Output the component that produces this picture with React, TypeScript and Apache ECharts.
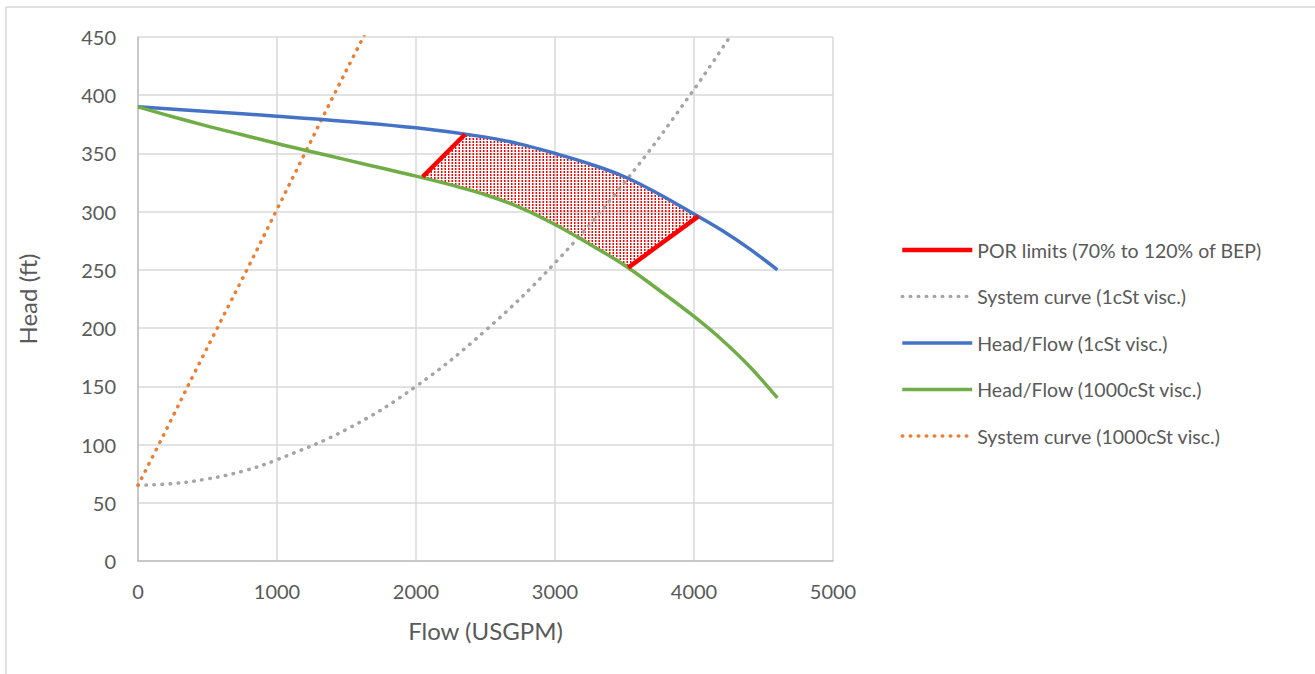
import React, { useEffect, useRef } from "react";
import * as echarts from "echarts";

// Head/Flow curve, 1 cSt
const flowBlue = [0, 500, 1000, 1500, 2000, 2500, 2750, 3000, 3250, 3500, 3750, 4000, 4200, 4400, 4600];
const headBlue = [390, 386, 382, 377.5, 372, 364, 358, 350, 341, 330, 315, 298, 284, 268, 250];

// Head/Flow curve, 1000 cSt
const flowGreen = [0, 250, 500, 750, 1000, 1250, 1500, 1750, 2000, 2250, 2500, 2750, 3000, 3250, 3500, 3750, 4000, 4200, 4400, 4600];
const headGreen = [390, 381.5, 373.5, 366, 358.5, 351.5, 344.5, 337.5, 330.5, 323, 314.5, 303.5, 289, 272, 254, 232.5, 210, 190, 167, 140];

// System curve, 1 cSt
const flowSys1 = [0, 250, 500, 750, 1000, 1500, 2000, 2500, 3000, 3500, 4000, 4400];
const headSys1 = [65, 66.5, 70.5, 77, 87, 113, 150, 198, 256, 325, 405, 476];

// System curve, 1000 cSt
const flowSys1000 = [0, 200, 400, 600, 800, 1000, 1200, 1400, 1600, 1700];
const headSys1000 = [65, 112, 160, 207, 254, 302, 350, 398, 445, 468];

// POR limits (70% and 120% of BEP)
const porLowFlow = [2048, 2353];
const porLowHead = [330, 366.5];
const porHighFlow = [3527, 4031];
const porHighHead = [252, 296];

const xTicks = { min: 0, max: 5000, interval: 1000 };
const yTicks = { min: 0, max: 450, interval: 50 };

const legendNames = [
  "POR limits (70% to 120% of BEP)",
  "System curve (1cSt visc.)",
  "Head/Flow (1cSt visc.)",
  "Head/Flow (1000cSt visc.)",
  "System curve (1000cSt visc.)",
];

const zip = (xs: number[], ys: number[]) => xs.map((x, i) => [x, ys[i]]);

export default function App() {
  const ref = useRef<HTMLDivElement>(null);

  useEffect(() => {
    document.body.style.margin = "0";
    if (!ref.current) return;
    const chart = echarts.init(ref.current, null, { renderer: "svg" });

    // hatch pattern
    const cv = document.createElement("canvas");
    cv.width = 7;
    cv.height = 3;
    const ctx = cv.getContext("2d")!;
    ctx.fillStyle = "#ff0000";
    ctx.fillRect(0, 0, 1.5, 2);
    ctx.fillRect(3.5, 0, 1.5, 2);
    const patternUrl = cv.toDataURL();

    // POR region polygon in data space
    const poly: number[][] = [];
    poly.push([porLowFlow[0], porLowHead[0]]);
    flowGreen.forEach((f, i) => {
      if (f > porLowFlow[0] && f < porHighFlow[0]) poly.push([f, headGreen[i]]);
    });
    poly.push([porHighFlow[0], porHighHead[0]]);
    poly.push([porHighFlow[1], porHighHead[1]]);
    for (let i = flowBlue.length - 1; i >= 0; i--) {
      const f = flowBlue[i];
      if (f < porHighFlow[1] && f > porLowFlow[1]) poly.push([f, headBlue[i]]);
    }
    poly.push([porLowFlow[1], porLowHead[1]]);

    const font = "Lato";
    const textColor = "#595959";
    const fontSize = 20;
    const titleSize = 24;

    const lineSeries = (name: string, xs: number[], ys: number[], color: string, width: number, dotted: boolean, z: number, smooth: number) => ({
      type: "line",
      name,
      data: zip(xs, ys),
      symbol: "none",
      smooth,
      z,
      lineStyle: dotted
        ? { color, width, type: [0.5, 7.5], cap: "round" }
        : { color, width },
      itemStyle: { color },
    });

    chart.setOption({
      animation: false,
      backgroundColor: "#ffffff",
      grid: { left: 138, right: 482, top: 37, bottom: 113, containLabel: false },
      xAxis: {
        type: "value",
        ...xTicks,
        name: "Flow (USGPM)",
        nameLocation: "middle",
        nameGap: 57,
        nameTextStyle: { fontFamily: font, fontSize: titleSize, color: textColor },
        axisLine: { show: true, lineStyle: { color: "#bfbfbf", width: 1.5 } },
        axisTick: { show: false },
        axisLabel: { fontFamily: font, fontSize, color: textColor, margin: 20, formatter: (v: number) => String(v) },
        splitLine: { show: true, lineStyle: { color: "#d9d9d9", width: 1.5 } },
      },
      yAxis: {
        type: "value",
        ...yTicks,
        name: "Head (ft)",
        nameLocation: "middle",
        nameGap: 99,
        nameRotate: 90,
        nameTextStyle: { fontFamily: font, fontSize: titleSize, color: textColor },
        axisLine: { show: true, lineStyle: { color: "#bfbfbf", width: 1.5 } },
        axisTick: { show: false },
        axisLabel: { fontFamily: font, fontSize, color: textColor, margin: 22 },
        splitLine: { show: true, lineStyle: { color: "#d9d9d9", width: 1.5 } },
      },
      legend: {
        orient: "vertical",
        left: 900,
        top: 240,
        padding: 0,
        data: legendNames,
        itemWidth: 70,
        itemHeight: 14,
        itemGap: 26.5,
        itemStyle: { opacity: 0 },
        lineStyle: { width: "inherit" },
        textStyle: { fontFamily: font, fontSize: 19.5, color: textColor, lineHeight: 20 },
      },
      graphic: [
        { type: "line", shape: { x1: 6, y1: 7, x2: 1315, y2: 7 }, style: { stroke: "#d9d9d9", lineWidth: 1.5 } },
        { type: "line", shape: { x1: 6, y1: 7, x2: 6, y2: 674 }, style: { stroke: "#d9d9d9", lineWidth: 1.5 } },
      ],
      series: [
        {
          type: "custom",
          name: "POR region",
          z: 1,
          data: [[0, 0]],
          renderItem: (_params: any, api: any) => {
            const pts = poly.map((p) => api.coord(p));
            return {
              type: "polygon",
              shape: { points: pts },
              style: {
                fill: { image: patternUrl, repeat: "repeat", imageWidth: 7, imageHeight: 3 },
                stroke: "none",
              },
            };
          },
        },
        lineSeries(legendNames[0], porLowFlow, porLowHead, "#ff0000", 4.5, false, 5, 0),
        lineSeries(legendNames[0], porHighFlow, porHighHead, "#ff0000", 4.5, false, 5, 0),
        lineSeries(legendNames[1], flowSys1, headSys1, "#a5a5a5", 3.5, true, 3, 0.4),
        lineSeries(legendNames[2], flowBlue, headBlue, "#4472c4", 3.5, false, 4, 0.4),
        lineSeries(legendNames[3], flowGreen, headGreen, "#70ad47", 3.5, false, 4, 0.4),
        lineSeries(legendNames[4], flowSys1000, headSys1000, "#ed7d31", 3.5, true, 3, 0.4),
      ],
    });

    return () => chart.dispose();
  }, []);

  return <div ref={ref} style={{ width: 1315, height: 674 }} />;
}
